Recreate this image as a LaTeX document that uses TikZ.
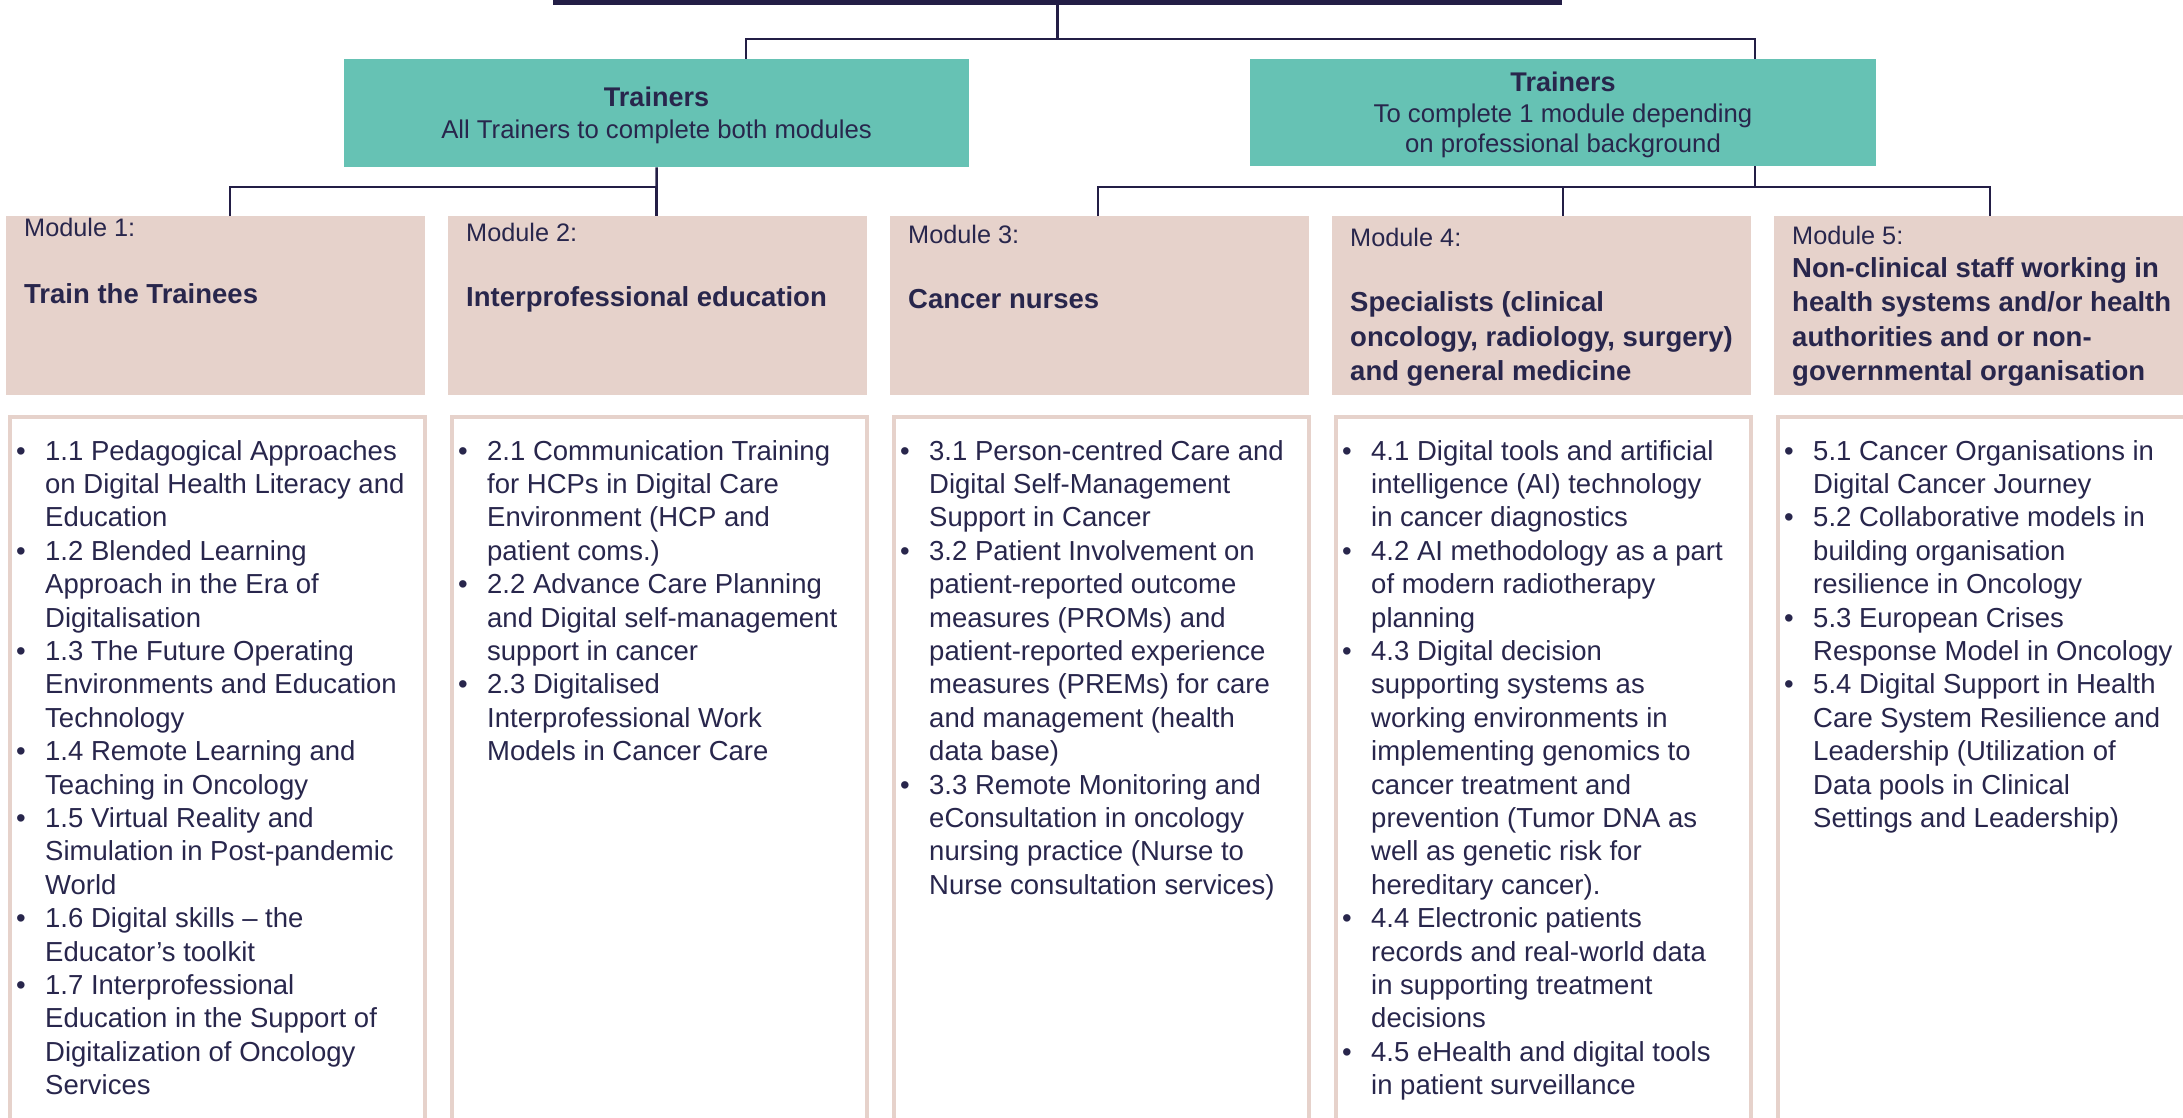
\documentclass[tikz,border=0pt]{standalone}
\usepackage{fontspec}
\setmainfont{Liberation Sans}
\definecolor{navy}{HTML}{231E46}
\definecolor{txt}{HTML}{28264C}
\definecolor{tealc}{HTML}{66C2B4}
\definecolor{pinkc}{HTML}{E6D2CB}
\newcommand\bul{\makebox[29pt][l]{•}}
\begin{document}
\begin{tikzpicture}[x=1pt,y=-1pt,
  conn/.style={draw=navy, line width=2.5pt},
  tealbox/.style={fill=tealc, draw=none, anchor=north west, inner sep=0pt},
  modbox/.style={fill=pinkc, draw=none, minimum width=419pt, minimum height=179pt, anchor=north west, inner sep=0pt},
  listbox/.style={draw=pinkc, line width=4pt, minimum width=415pt, minimum height=760pt, anchor=north west, inner sep=0pt},
  modlabel/.style={anchor=base west, inner sep=0pt, text=txt, font=\fontsize{25.3}{30}\selectfont},
  heading/.style={anchor=base west, inner sep=0pt, text=txt, font=\fontsize{27.5}{34.5}\selectfont\bfseries},
  items/.style={anchor=base west, inner sep=0pt, text=txt, font=\fontsize{27.5}{33.4}\selectfont},
  tealtxt/.style={anchor=base, inner sep=0pt, text=txt},
]
\useasboundingbox (0,0) rectangle (2183,1118);

% header bar (cropped)
\node[fill=navy, draw=none, minimum width=1009pt, minimum height=40pt, anchor=south, inner sep=0pt] (head) at (1057.5,5) {};

% trainer boxes
\node[tealbox, minimum width=625pt, minimum height=108pt] (t1) at (344,59) {};
\node[tealbox, minimum width=626pt, minimum height=107pt] (t2) at (1250,59) {};

% module boxes
\node[modbox] (m1) at (6,216) {};
\node[modbox] (m2) at (448,216) {};
\node[modbox] (m3) at (890,216) {};
\node[modbox] (m4) at (1332,216) {};
\node[modbox] (m5) at (1774,216) {};

% list boxes
\node[listbox] (l1) at (8,415) {};
\node[listbox] (l2) at (450,415) {};
\node[listbox] (l3) at (892,415) {};
\node[listbox] (l4) at (1334,415) {};
\node[listbox] (l5) at (1776,415) {};

% connectors
\coordinate (a1) at (746,39);
\coordinate (a2) at (1755,39);
\draw[conn] (head.south) -- (head.south |- a1);
\draw[conn] (t1.north -| a1) -- (a1) -- (a2) -- (t2.north -| a2);

\coordinate (b1) at (230,187);
\coordinate (b2) at (656.5,187);
\draw[conn] (t1.south) -- (b2);
\draw[conn] (m1.north -| b1) -- (b1) -- (b2) -- (m2.north -| b2);

\coordinate (c1) at (1098,187);
\coordinate (c2) at (1563,187);
\coordinate (c3) at (1755,187);
\coordinate (c4) at (1990,187);
\draw[conn] (t2.south -| c3) -- (c3);
\draw[conn] (m3.north -| c1) -- (c1) -- (c4) -- (m5.north -| c4);
\draw[conn] (c2) -- (m4.north -| c2);

% trainer texts
\node[tealtxt, font=\fontsize{25.7}{32}\selectfont] (t1t) at (656.5,107)
  {\begin{tabular}[t]{@{}c@{}}{\fontsize{27}{32}\selectfont\bfseries Trainers}\\
   All Trainers to complete both modules\end{tabular}};
\node[tealtxt, font=\fontsize{25.7}{30.5}\selectfont] (t2t) at (1563,92)
  {\begin{tabular}[t]{@{}c@{}}{\fontsize{27}{30.5}\selectfont\bfseries Trainers}\\
   To complete 1 module depending\\ on professional background\end{tabular}};

% module labels
\node[modlabel] (m1l) at (24,236.7) {Module 1:};
\node[modlabel] (m2l) at (466,241.7) {Module 2:};
\node[modlabel] (m3l) at (908,243) {Module 3:};
\node[modlabel] (m4l) at (1350,246.7) {Module 4:};
\node[modlabel] (m5l) at (1792,244.3) {Module 5:};

% module headings
\node[heading] (m1h) at (24,303) {Train the Trainees};
\node[heading] (m2h) at (466,306) {Interprofessional education};
\node[heading] (m3h) at (908,308) {Cancer nurses};
\node[heading] (m4h) at (1350,311.7) {\begin{tabular}[t]{@{}l@{}}Specialists (clinical\\
  oncology, radiology, surgery)\\ and general medicine\end{tabular}};
\node[heading] (m5h) at (1792,277) {\begin{tabular}[t]{@{}l@{}}Non-clinical staff working in\\
  health systems and/or health\\ authorities and or non-\\ governmental organisation\end{tabular}};

% item lists
\node[items] (l1t) at (16,460) {\begin{tabular}[t]{@{}l@{}l@{}}
\bul & 1.1 Pedagogical Approaches\\
 & on Digital Health Literacy and\\
 & Education\\
\bul & 1.2 Blended Learning\\
 & Approach in the Era of\\
 & Digitalisation\\
\bul & 1.3 The Future Operating\\
 & Environments and Education\\
 & Technology\\
\bul & 1.4 Remote Learning and\\
 & Teaching in Oncology\\
\bul & 1.5 Virtual Reality and\\
 & Simulation in Post-pandemic\\
 & World\\
\bul & 1.6 Digital skills – the\\
 & Educator’s toolkit\\
\bul & 1.7 Interprofessional\\
 & Education in the Support of\\
 & Digitalization of Oncology\\
 & Services
\end{tabular}};

\node[items] (l2t) at (458,460) {\begin{tabular}[t]{@{}l@{}l@{}}
\bul & 2.1 Communication Training\\
 & for HCPs in Digital Care\\
 & Environment (HCP and\\
 & patient coms.)\\
\bul & 2.2 Advance Care Planning\\
 & and Digital self-management\\
 & support in cancer\\
\bul & 2.3 Digitalised\\
 & Interprofessional Work\\
 & Models in Cancer Care
\end{tabular}};

\node[items] (l3t) at (900,460) {\begin{tabular}[t]{@{}l@{}l@{}}
\bul & 3.1 Person-centred Care and\\
 & Digital Self-Management\\
 & Support in Cancer\\
\bul & 3.2 Patient Involvement on\\
 & patient-reported outcome\\
 & measures (PROMs) and\\
 & patient-reported experience\\
 & measures (PREMs) for care\\
 & and management (health\\
 & data base)\\
\bul & 3.3 Remote Monitoring and\\
 & eConsultation in oncology\\
 & nursing practice (Nurse to\\
 & Nurse consultation services)
\end{tabular}};

\node[items] (l4t) at (1342,460) {\begin{tabular}[t]{@{}l@{}l@{}}
\bul & 4.1 Digital tools and artificial\\
 & intelligence (AI) technology\\
 & in cancer diagnostics\\
\bul & 4.2 AI methodology as a part\\
 & of modern radiotherapy\\
 & planning\\
\bul & 4.3 Digital decision\\
 & supporting systems as\\
 & working environments in\\
 & implementing genomics to\\
 & cancer treatment and\\
 & prevention (Tumor DNA as\\
 & well as genetic risk for\\
 & hereditary cancer).\\
\bul & 4.4 Electronic patients\\
 & records and real-world data\\
 & in supporting treatment\\
 & decisions\\
\bul & 4.5 eHealth and digital tools\\
 & in patient surveillance
\end{tabular}};

\node[items] (l5t) at (1784,460) {\begin{tabular}[t]{@{}l@{}l@{}}
\bul & 5.1 Cancer Organisations in\\
 & Digital Cancer Journey\\
\bul & 5.2 Collaborative models in\\
 & building organisation\\
 & resilience in Oncology\\
\bul & 5.3 European Crises\\
 & Response Model in Oncology\\
\bul & 5.4 Digital Support in Health\\
 & Care System Resilience and\\
 & Leadership (Utilization of\\
 & Data pools in Clinical\\
 & Settings and Leadership)
\end{tabular}};
\end{tikzpicture}
\end{document}
